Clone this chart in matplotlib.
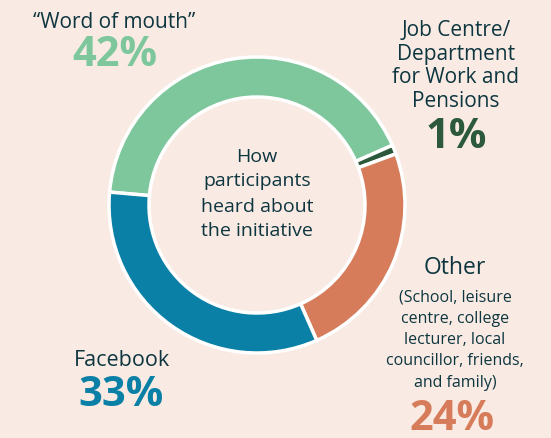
import matplotlib.pyplot as plt

# how participants heard about the initiative
sources = ['\u201cWord of mouth\u201d', 'Job Centre/\nDepartment\nfor Work and\nPensions', 'Other', 'Facebook']
shares = [42, 1, 24, 33]
other_note = '(School, leisure\ncentre, college\nlecturer, local\ncouncillor, friends,\nand family)'
centre_title = 'How\nparticipants\nheard about\nthe initiative'

colors = ['#7ec79c', '#2c583c', '#d67c5b', '#0a80a6']
bg = '#f9ebe3'
ink = '#0e3640'
plt.rcParams['font.family'] = ['Open Sans', 'DejaVu Sans']

W, H = 551, 438
fig = plt.figure(figsize=(W / 100, H / 100), dpi=100, facecolor=bg)
ax = fig.add_axes([0, 0, 1, 1])
ax.set_facecolor(bg)

cx, cy, r = 257, H - 205, 148
ax.pie(shares, colors=colors, startangle=175, counterclock=False,
       center=(cx, cy), radius=r, frame=True,
       wedgeprops=dict(width=40, edgecolor='white', linewidth=2.5))
ax.set_xlim(0, W)
ax.set_ylim(0, H)
ax.axis('off')

ax.text(cx, cy + 11, centre_title, ha='center', va='center', fontsize=14,
        fontweight='medium', color=ink, linespacing=1.5)

def y(px):
    return H - px

# word of mouth
ax.text(114, y(23), sources[0], ha='center', va='center', fontsize=15,
        fontweight='medium', color=ink)
ax.text(115, y(56), f'{shares[0]}%', ha='center', va='center', fontsize=30,
        fontweight='bold', color=colors[0])

# job centre
ax.text(456, y(66), sources[1], ha='center', va='center', fontsize=15,
        fontweight='medium', color=ink, linespacing=1.15)
ax.text(456, y(138), f'{shares[1]}%', ha='center', va='center', fontsize=30,
        fontweight='bold', color=colors[1])

# other
ax.text(455, y(268), sources[2], ha='center', va='center', fontsize=16.5,
        fontweight='medium', color=ink)
ax.text(455, y(340), other_note, ha='center', va='center', fontsize=11.5,
        fontweight='medium', color=ink, linespacing=1.45)
ax.text(452, y(420), f'{shares[2]}%', ha='center', va='center', fontsize=30,
        fontweight='bold', color=colors[2])

# facebook
ax.text(122, y(361), sources[3], ha='center', va='center', fontsize=15.5,
        fontweight='medium', color=ink)
ax.text(121, y(396), f'{shares[3]}%', ha='center', va='center', fontsize=30,
        fontweight='bold', color=colors[3])

fig.savefig('out.png', dpi=100, facecolor=bg)
